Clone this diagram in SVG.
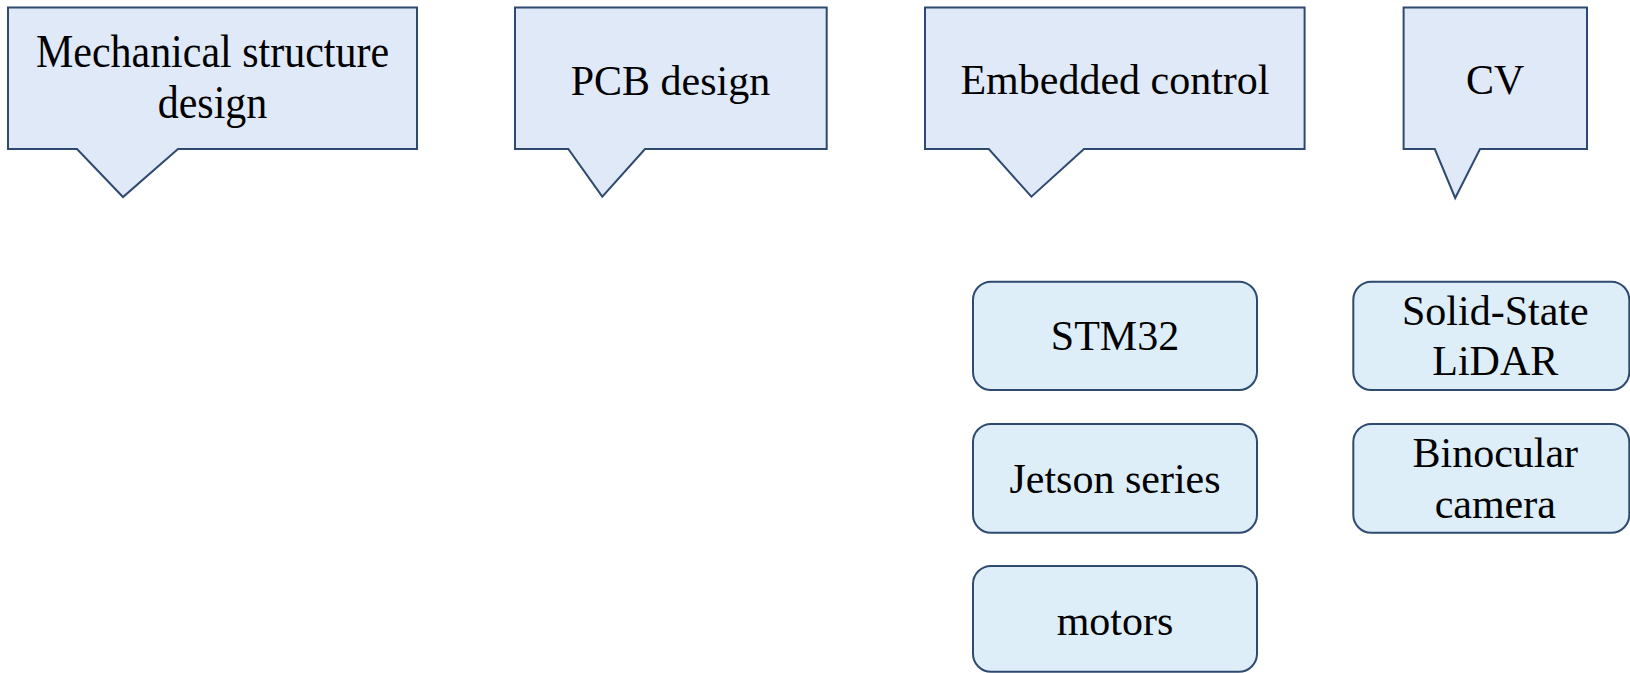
<svg xmlns="http://www.w3.org/2000/svg" width="1630" height="673" viewBox="0 0 1630 673">
  <style>
    .callout { fill: #dfe9f8; stroke: #2f4a70; stroke-width: 2; stroke-linejoin: miter; }
    .item { fill: #ddeef9; stroke: #2f4a70; stroke-width: 2; }
    .label { font-family: "Liberation Serif", "Times New Roman", serif; font-size: 42px; fill: #000; text-anchor: middle; }
  </style>
  <rect width="1630" height="673" fill="#ffffff"/>

  <!-- Category callouts -->
  <g id="mechanical">
    <path class="callout" d="M8,7.5 H417 V149 H178 L123,197 L77,149 H8 Z"/>
    <text class="label" transform="translate(212.5,66.7) scale(1,1.1)">Mechanical structure</text>
    <text class="label" transform="translate(212.5,117.5) scale(1,1.1)">design</text>
  </g>
  <g id="pcb">
    <path class="callout" d="M515,7.5 H826.7 V149 H645 L602.3,196.7 L568.3,149 H515 Z"/>
    <text class="label" x="670.5" y="95">PCB design</text>
  </g>
  <g id="embedded">
    <path class="callout" d="M925,7.5 H1304.6 V149 H1084 L1031.4,196.7 L988.8,149 H925 Z"/>
    <text class="label" x="1115" y="94.3">Embedded control</text>
  </g>
  <g id="cv">
    <path class="callout" d="M1403.6,7.5 H1587 V149 H1480 L1455.2,198 L1434.8,149 H1403.6 Z"/>
    <text class="label" x="1495.3" y="94.3">CV</text>
  </g>

  <!-- Embedded control items -->
  <g id="stm32">
    <rect class="item" x="973" y="281.7" width="284" height="108.3" rx="18" ry="18"/>
    <text class="label" x="1115" y="350">STM32</text>
  </g>
  <g id="jetson">
    <rect class="item" x="973" y="424" width="284" height="108.7" rx="18" ry="18"/>
    <text class="label" x="1115" y="492.7">Jetson series</text>
  </g>
  <g id="motors">
    <rect class="item" x="973" y="566" width="284" height="105.7" rx="18" ry="18"/>
    <text class="label" x="1115" y="635">motors</text>
  </g>

  <!-- CV items -->
  <g id="lidar">
    <rect class="item" x="1353.3" y="281.7" width="276" height="108.3" rx="18" ry="18"/>
    <text class="label" x="1495.3" y="325">Solid-State</text>
    <text class="label" x="1495.3" y="375">LiDAR</text>
  </g>
  <g id="camera">
    <rect class="item" x="1353.3" y="424" width="276" height="108.7" rx="18" ry="18"/>
    <text class="label" x="1495.3" y="466.7">Binocular</text>
    <text class="label" x="1495.3" y="518.3">camera</text>
  </g>

  <!-- No connectors are drawn between the nodes -->
  <g id="connectors"/>
</svg>
